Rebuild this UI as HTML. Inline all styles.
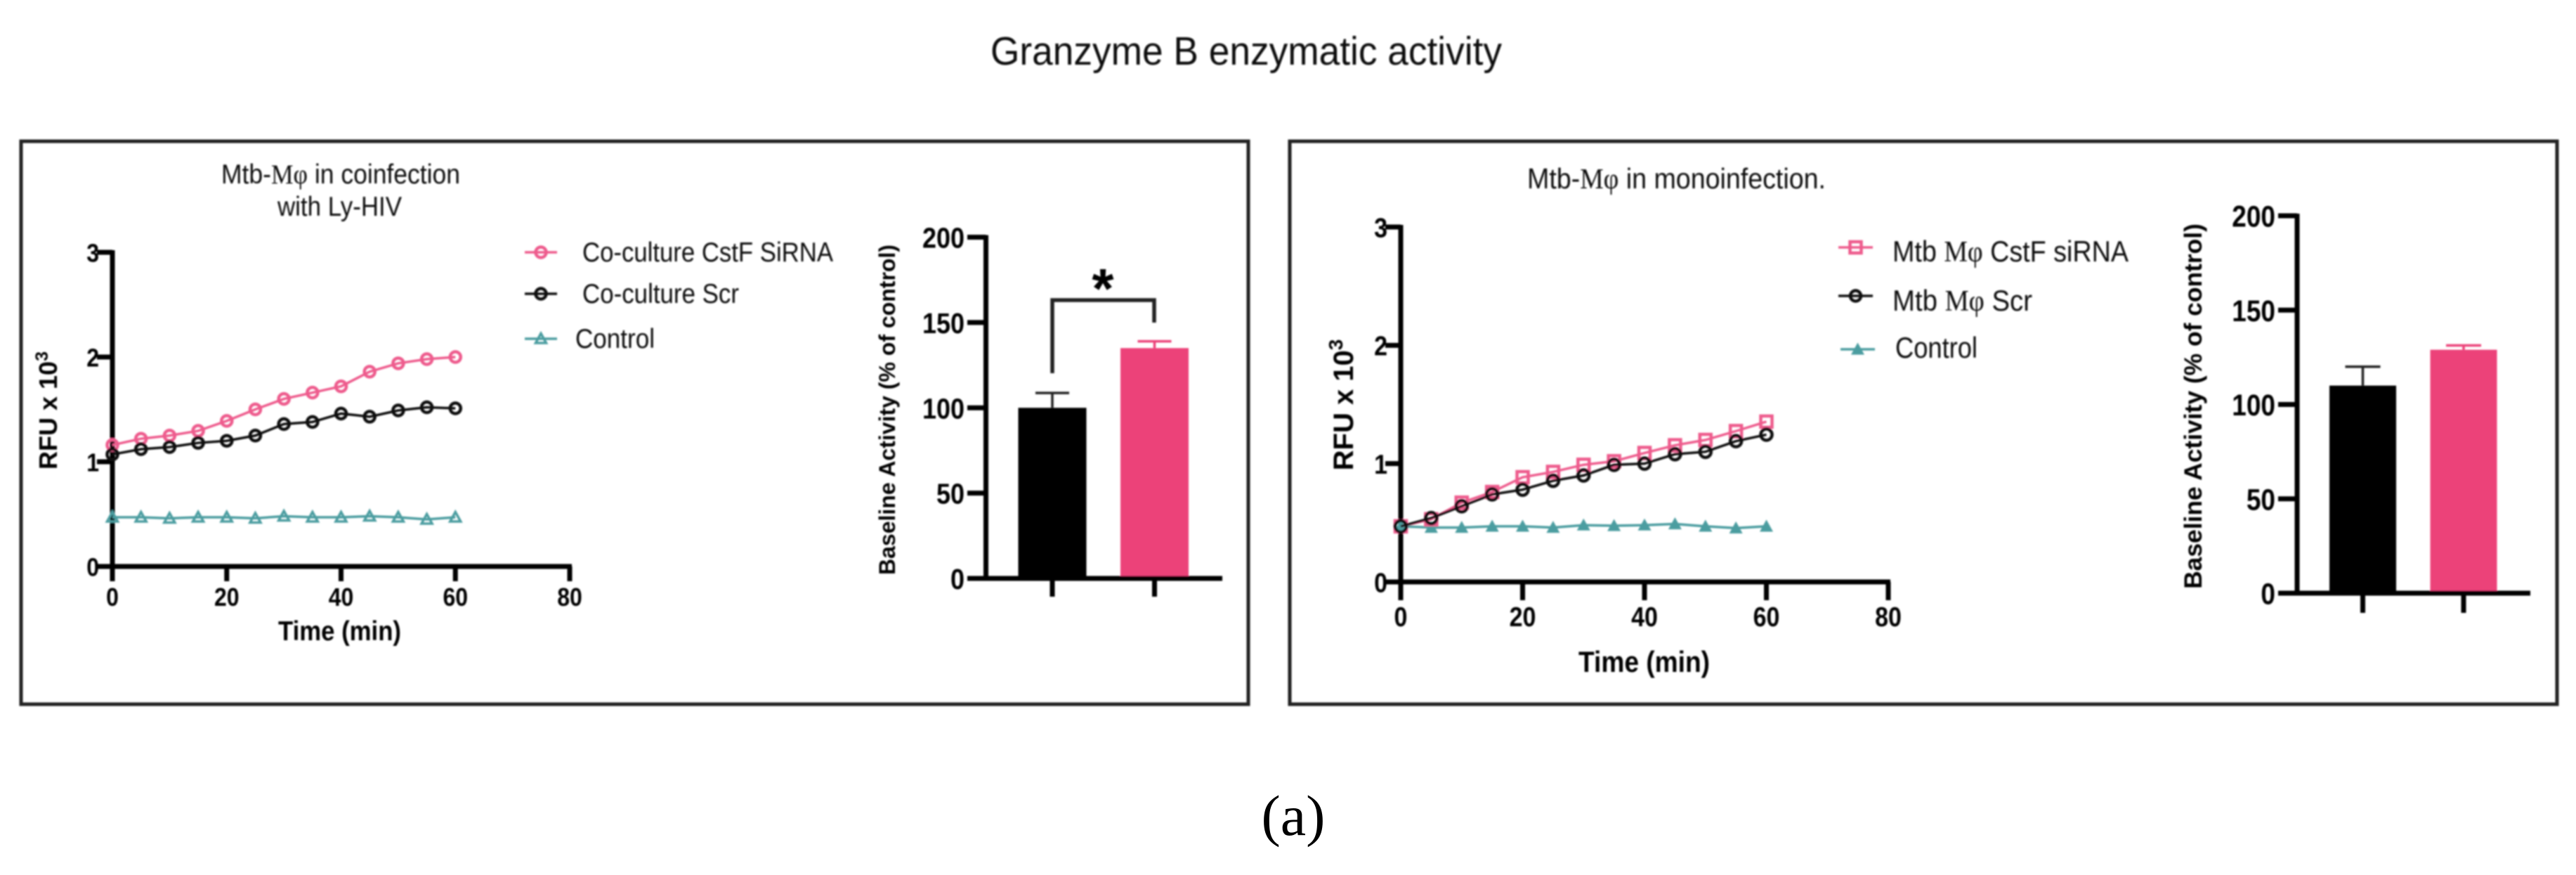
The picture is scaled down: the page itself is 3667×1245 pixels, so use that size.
<!DOCTYPE html>
<html lang="en">
<head>
<meta charset="utf-8">
<title>Granzyme B enzymatic activity</title>
<style>
html,body{margin:0;padding:0;background:#fff;}
svg{display:block;}
text{font-family:"Liberation Sans",sans-serif;fill:#000;}
.serif{font-family:"Liberation Serif",serif;}
.legend{font-size:39px;fill:#111;}
.ptitle{font-size:39px;fill:#111;}
.bold{font-weight:bold;}
</style>
</head>
<body>
<svg id="fig" xmlns="http://www.w3.org/2000/svg" width="3667" height="1245" viewBox="0 0 3667 1245">
  <defs>
    <filter id="soft" filterUnits="userSpaceOnUse" x="0" y="0" width="3667" height="1245">
      <feGaussianBlur stdDeviation="1.1"/>
    </filter>
  </defs>
  <rect x="0" y="0" width="3667" height="1245" fill="#fff"/>
  <g id="art" filter="url(#soft)">
    <text x="1410" y="92" font-size="57" textLength="728" lengthAdjust="spacingAndGlyphs" style="fill:#111">Granzyme B enzymatic activity</text>

    <rect x="30" y="201" width="1747" height="801" fill="none" stroke="#222" stroke-width="5"/>
    <rect x="1836" y="201" width="1804" height="801" fill="none" stroke="#222" stroke-width="5"/>

    <text class="ptitle" x="315" y="261" textLength="340" lengthAdjust="spacingAndGlyphs">Mtb-<tspan class="serif">Mφ</tspan> in coinfection</text>
    <text class="ptitle" x="395" y="307" textLength="177" lengthAdjust="spacingAndGlyphs">with Ly-HIV</text>
    <text class="ptitle" x="2174" y="268" style="font-size:41px" textLength="425" lengthAdjust="spacingAndGlyphs">Mtb-<tspan class="serif">Mφ</tspan> in monoinfection.</text>

    <text class="legend" x="829" y="372" textLength="357" lengthAdjust="spacingAndGlyphs">Co-culture CstF SiRNA</text>
    <text class="legend" x="829" y="431" textLength="223" lengthAdjust="spacingAndGlyphs">Co-culture Scr</text>
    <text class="legend" x="819" y="495" textLength="113" lengthAdjust="spacingAndGlyphs">Control</text>

    <text class="legend" x="2694" y="372" style="font-size:42px" textLength="336" lengthAdjust="spacingAndGlyphs">Mtb <tspan class="serif">Mφ</tspan> CstF siRNA</text>
    <text class="legend" x="2694" y="442" style="font-size:42px" textLength="199" lengthAdjust="spacingAndGlyphs">Mtb <tspan class="serif">Mφ</tspan> Scr</text>
    <text class="legend" x="2698" y="509" style="font-size:42px" textLength="117" lengthAdjust="spacingAndGlyphs">Control</text>

    <text class="bold" x="396" y="911" font-size="39" textLength="175" lengthAdjust="spacingAndGlyphs">Time (min)</text>
    <text class="bold" x="2247" y="956" font-size="42" textLength="187" lengthAdjust="spacingAndGlyphs">Time (min)</text>

    <text class="bold" font-size="36" text-anchor="middle" transform="translate(81,584) rotate(-90)">RFU x 10<tspan font-size="25" dy="-13">3</tspan></text>
    <text class="bold" font-size="40" text-anchor="middle" transform="translate(1926,576) rotate(-90)">RFU x 10<tspan font-size="28" dy="-15">3</tspan></text>

    <text class="bold" font-size="32" text-anchor="middle" transform="translate(1274,583) rotate(-90)">Baseline Activity (% of control)</text>
    <text class="bold" font-size="35.4" text-anchor="middle" transform="translate(3134,578) rotate(-90)">Baseline Activity (% of control)</text>

    <path d="M1498 531V427H1643V459" fill="none" stroke="#222" stroke-width="5.5"/>
    <text class="bold" x="1570" y="438" font-size="80" text-anchor="middle">*</text>

    <g id="charts"></g>
  </g>
  <text class="serif" x="1841" y="1188" font-size="82" text-anchor="middle" style="fill:#000">(a)</text>
</svg>

<script>
// ---- data ----
const timeMinutes = [0,5,10,15,20,25,30,35,40,45,50,55,60];
const xTickValues = [0,20,40,60,80];
const yTickValues = [0,1,2,3];
const barTickValues = [0,50,100,150,200];

const leftCstf = [1.16,1.22,1.25,1.295,1.39,1.50,1.60,1.66,1.72,1.86,1.94,1.98,2.00];
const leftScr = [1.07,1.12,1.14,1.18,1.20,1.25,1.36,1.38,1.46,1.43,1.49,1.52,1.51];
const leftControl = [0.47,0.47,0.46,0.47,0.47,0.46,0.48,0.47,0.47,0.48,0.47,0.45,0.47];

const rightCstf = [0.47,0.53,0.67,0.76,0.885,0.93,0.99,1.02,1.09,1.155,1.20,1.275,1.355];
const rightScr = [0.47,0.54,0.64,0.74,0.78,0.855,0.90,0.99,1.00,1.08,1.10,1.19,1.245];
const rightControl = [0.47,0.46,0.46,0.47,0.47,0.46,0.48,0.475,0.48,0.49,0.47,0.455,0.47];

const leftBarMeans = [100,135];
const leftBarUpper = [108.7,139];
const rightBarMeans = [110,129];
const rightBarUpper = [120,131.3];

const PINK = '#ee5c8d';
const BLACK = '#111111';
const TEAL = '#4b9da0';
const BAR_BLACK = '#000000';
const BAR_PINK = '#ec4379';
const NS = 'http://www.w3.org/2000/svg';
const root = document.getElementById('charts');

function mk(tag, attrs, parent) {
  const e = document.createElementNS(NS, tag);
  for (const k in attrs) e.setAttribute(k, attrs[k]);
  (parent || root).appendChild(e);
  return e;
}

function tickLabelAttrs(v, x, y, size, anchor) {
  return {x: x, y: y, 'font-size': size * 1.14, 'font-weight': 'bold', 'text-anchor': anchor,
          textLength: String(v).length * 0.556 * size, lengthAdjust: 'spacingAndGlyphs'};
}

function drawMarker(kind, cx, cy, color, size, parent) {
  let m;
  if (kind === 'circle') {
    m = mk('circle', {cx: cx, cy: cy, r: size, fill: 'none', stroke: color, 'stroke-width': 4.5}, parent);
  } else if (kind === 'square') {
    m = mk('rect', {x: cx - size, y: cy - size, width: 2 * size, height: 2 * size, fill: 'none', stroke: color, 'stroke-width': 4.5}, parent);
  } else if (kind === 'tri-open') {
    m = mk('path', {d: 'M' + cx + ' ' + (cy - size) + 'L' + (cx + size) + ' ' + (cy + size * 0.8) + 'H' + (cx - size) + 'Z', fill: 'none', stroke: color, 'stroke-width': 3.5}, parent);
  } else {
    m = mk('path', {d: 'M' + cx + ' ' + (cy - size) + 'L' + (cx + size) + ' ' + (cy + size * 0.8) + 'H' + (cx - size) + 'Z', fill: color}, parent);
  }
  return m;
}

function drawAxesLine(prefix, g) {
  const sx = v => g.x0 + (v / 80) * (g.x80 - g.x0);
  const sy = v => g.y0 - (v / 3) * (g.y0 - g.y3);

  const yAxis = mk('line', {x1: g.x0, x2: g.x0, y1: g.y3 - 3, y2: g.tickBottom, stroke: '#000', 'stroke-width': 7});
  
  
  const xAxis = mk('line', {x1: g.x0 - 22, x2: sx(80) + 3, y1: g.y0, y2: g.y0, stroke: '#000', 'stroke-width': 7});
  
  

  xTickValues.forEach(function (v) {
    const t = mk('line', {x1: sx(v), x2: sx(v), y1: g.y0, y2: g.tickBottom, stroke: '#000', 'stroke-width': 7});
    
    
    const l = mk('text', tickLabelAttrs(v, sx(v), g.xLabelY, g.tickFont, 'middle'));
    l.textContent = v;
    
    
  });
  yTickValues.forEach(function (v) {
    const t = mk('line', {x1: g.x0 - 22, x2: g.x0, y1: sy(v), y2: sy(v), stroke: '#000', 'stroke-width': 7});
    
    
    const l = mk('text', tickLabelAttrs(v, g.yLabelX, sy(v) + g.tickFont * 0.42, g.tickFont, 'end'));
    l.textContent = v;
    
    
  });
  return {sx: sx, sy: sy};
}

function drawSeries(name, values, scale, color, marker, size) {
  const group = mk('g', {});
  
  
  const pts = values.map(function (v, i) { return scale.sx(timeMinutes[i]) + ',' + scale.sy(v); }).join(' ');
  const line = mk('polyline', {points: pts, fill: 'none', stroke: color, 'stroke-width': 3.5}, group);
  
  
  values.forEach(function (v, i) {
    const m = drawMarker(marker, scale.sx(timeMinutes[i]), scale.sy(v), color, size, group);
    
    
  });
}

function drawLegendKey(name, x1, x2, y, color, marker, size) {
  const line = mk('line', {x1: x1, x2: x2, y1: y, y2: y, stroke: color, 'stroke-width': 3.5});
  
  
  const m = drawMarker(marker, (x1 + x2) / 2, y, color, size);
  
  
}

function drawBars(prefix, g, means, uppers) {
  const sy = v => g.y0 - (v / 200) * (g.y0 - g.y200);
  const colors = [BAR_BLACK, BAR_PINK];
  means.forEach(function (v, i) {
    const cx = g.centers[i];
    const stem = mk('line', {x1: cx, x2: cx, y1: sy(v), y2: sy(uppers[i]), stroke: i ? BAR_PINK : '#222', 'stroke-width': 3.5});
    
    
    const cap = mk('line', {x1: cx - g.cap, x2: cx + g.cap, y1: sy(uppers[i]), y2: sy(uppers[i]), stroke: i ? BAR_PINK : '#222', 'stroke-width': 3.5});
    
    
    const bar = mk('rect', {x: cx - g.barW / 2, y: sy(v), width: g.barW, height: g.y0 - sy(v), fill: colors[i]});
    
    
    const tick = mk('line', {x1: cx, x2: cx, y1: g.y0, y2: g.tickBottom, stroke: '#000', 'stroke-width': 7});
    
    
  });
  const yAxis = mk('line', {x1: g.x0, x2: g.x0, y1: g.y200 - 3, y2: g.y0 + 3, stroke: '#000', 'stroke-width': 7});
  
  
  const xAxis = mk('line', {x1: g.tickLeft, x2: g.xEnd, y1: g.y0, y2: g.y0, stroke: '#000', 'stroke-width': 7});
  
  
  barTickValues.forEach(function (v) {
    const t = mk('line', {x1: g.tickLeft, x2: g.x0, y1: sy(v), y2: sy(v), stroke: '#000', 'stroke-width': 7});
    
    
    const l = mk('text', tickLabelAttrs(v, g.tickLeft - 4, sy(v) + g.tickFont * 0.42, g.tickFont, 'end'));
    l.textContent = v;
    
    
  });
}

// left line chart
const leftScale = drawAxesLine('left-chart', {x0: 160, x80: 811, y0: 806, y3: 359, tickBottom: 827, xLabelY: 862, yLabelX: 141, tickFont: 32});
drawSeries('left-control', leftControl, leftScale, TEAL, 'tri-open', 7.5);
drawSeries('left-cstf', leftCstf, leftScale, PINK, 'circle', 7.5);
drawSeries('left-scr', leftScr, leftScale, BLACK, 'circle', 7.5);
drawLegendKey('left-cstf', 747, 793, 359, PINK, 'circle', 7.5);
drawLegendKey('left-scr', 747, 793, 418, BLACK, 'circle', 7.5);
drawLegendKey('left-control', 747, 793, 482, TEAL, 'tri-open', 7.5);

// right line chart
const rightScale = drawAxesLine('right-chart', {x0: 1994, x80: 2688, y0: 828, y3: 323, tickBottom: 854, xLabelY: 891, yLabelX: 1975, tickFont: 34});
drawSeries('right-control', rightControl, rightScale, TEAL, 'tri-fill', 9.5);
drawSeries('right-cstf', rightCstf, rightScale, PINK, 'square', 8);
drawSeries('right-scr', rightScr, rightScale, BLACK, 'circle', 8);
drawLegendKey('right-cstf', 2617, 2666, 352, PINK, 'square', 8);
drawLegendKey('right-scr', 2617, 2666, 421, BLACK, 'circle', 7.5);
drawLegendKey('right-control', 2620, 2669, 497, TEAL, 'tri-fill', 9.5);

// bar charts
drawBars('left-bar', {x0: 1403.5, y0: 823, y200: 337.5, tickLeft: 1377, xEnd: 1740, tickBottom: 849, centers: [1498, 1643.5], barW: 97, cap: 24, tickFont: 36}, leftBarMeans, leftBarUpper);
drawBars('right-bar', {x0: 3270, y0: 844, y200: 307, tickLeft: 3243, xEnd: 3602, tickBottom: 872, centers: [3363.5, 3507], barW: 95, cap: 25, tickFont: 37}, rightBarMeans, rightBarUpper);
</script>
</body>
</html>
